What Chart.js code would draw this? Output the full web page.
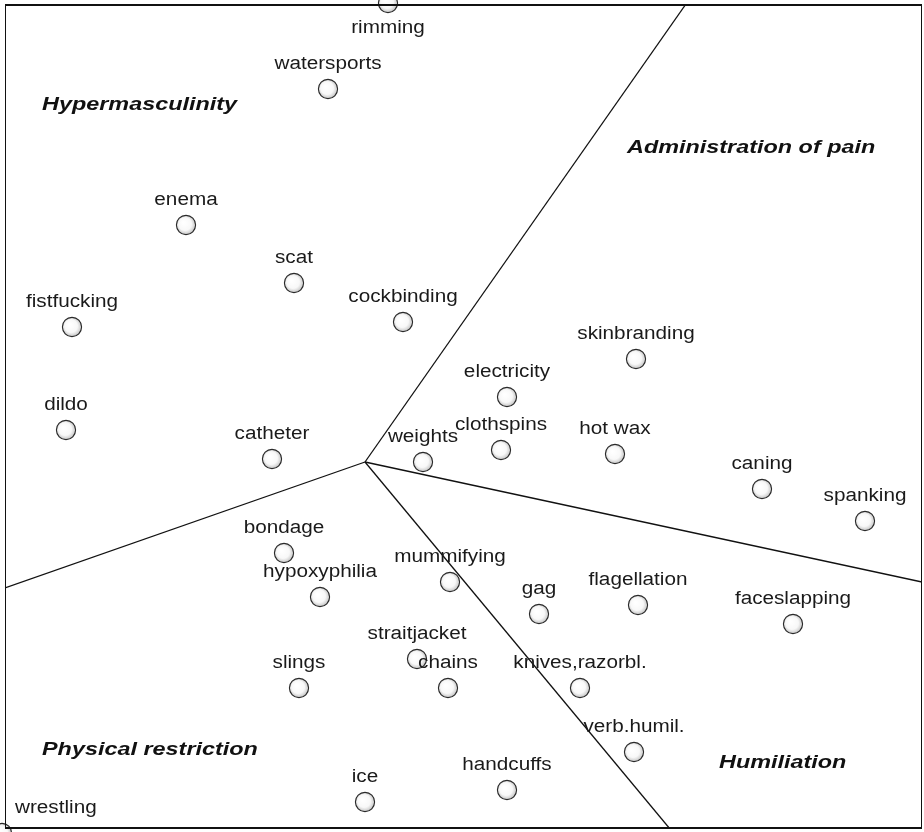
<!DOCTYPE html>
<html>
<head>
<meta charset="utf-8">
<script src="https://cdn.jsdelivr.net/npm/chart.js@4.4.1/dist/chart.umd.min.js"></script>
<style>
  html, body { margin: 0; padding: 0; background: #ffffff; }
  #wrap { width: 924px; height: 832px; }
</style>
</head>
<body>
<div id="wrap"><canvas id="c" width="924" height="832"></canvas></div>
<script>
// ---- data (map units: x to the right, y upward) ----
const categories = ['rimming','watersports','enema','scat','fistfucking','cockbinding',
  'skinbranding','electricity','dildo','catheter','weights','clothspins','hot wax',
  'caning','spanking','bondage','hypoxyphilia','mummifying','gag','flagellation',
  'faceslapping','straitjacket','chains','slings','knives,razorbl.','verb.humil.',
  'ice','handcuffs','wrestling'];
const xValues = [383,323,181,289,67,398,631,502,61,267,418,496,610,757,860,279,315,445,
  534,633,788,412,443,294,575,629,360,502,-3];
const yValues = [826,740,604,546,502,507,470,432,399,370,367,379,375,340,308,276,232,247,
  215,224,205,170,141,141,141,77,27,39,-4];

// region boundaries: a common centre and the end point of each of four rays
const boundaryCenter = [360, 367];
const boundaryEndX = [681, 917, 665, 0];
const boundaryEndY = [825, 247, 0, 241];

// region names and where their text starts (left x, baseline y)
const regionNames = ['Hypermasculinity','Administration of pain','Physical restriction','Humiliation'];
const regionX = [37, 622, 37, 714];
const regionY = [719, 676, 74, 61];

const X_MIN = 0, X_MAX = 917, Y_MIN = 0, Y_MAX = 825;

// ---- shaded sphere marker ----
function makeSphere() {
  const s = 24, c = document.createElement('canvas');
  c.width = s; c.height = s;
  const g = c.getContext('2d');
  const grad = g.createRadialGradient(9.5, 9.5, 1, 12, 12, 10);
  grad.addColorStop(0, '#ffffff');
  grad.addColorStop(0.6, '#f8f8f8');
  grad.addColorStop(0.88, '#d0d0d0');
  grad.addColorStop(1, '#7d7d7d');
  g.beginPath();
  g.arc(12, 12, 9.6, 0, Math.PI * 2);
  g.fillStyle = grad;
  g.fill();
  g.lineWidth = 1.1;
  g.strokeStyle = '#2a2a2a';
  g.stroke();
  return c;
}
const sphere = makeSphere();

const points = categories.map((n, i) => ({ x: xValues[i], y: yValues[i], name: n }));
const boundaryDatasets = boundaryEndX.map((ex, i) => ({
  type: 'scatter',
  data: [{ x: boundaryCenter[0], y: boundaryCenter[1] }, { x: ex, y: boundaryEndY[i] }],
  showLine: true,
  borderColor: '#111111',
  borderWidth: 1.3,
  pointRadius: 0,
  pointHoverRadius: 0,
  fill: false,
  order: 2
}));

function drawStretched(ctx, text, x, y, align, sx) {
  ctx.save();
  ctx.translate(x, y);
  ctx.scale(sx, 1);
  ctx.textAlign = align;
  ctx.fillText(text, 0, 0);
  ctx.restore();
}

const labelPlugin = {
  id: 'labels',
  afterDatasetsDraw(chart) {
    const ctx = chart.ctx, area = chart.chartArea;
    const xs = chart.scales.x, ys = chart.scales.y;
    // frame
    ctx.save();
    ctx.strokeStyle = '#111';
    ctx.lineWidth = 1;
    ctx.strokeRect(area.left + 0.5, area.top + 0.5, area.right - area.left - 1, area.bottom - area.top - 1);
    ctx.lineWidth = 2;
    ctx.beginPath(); ctx.moveTo(area.left, area.top + 1); ctx.lineTo(area.right, area.top + 1); ctx.stroke();
    ctx.beginPath(); ctx.moveTo(area.left, area.bottom - 1); ctx.lineTo(area.right, area.bottom - 1); ctx.stroke();
    ctx.restore();

    // point labels
    const meta = chart.getDatasetMeta(0);
    const SX = 1.15;
    ctx.save();
    ctx.font = '18px "Liberation Sans", Arial, sans-serif';
    ctx.fillStyle = '#1a1a1a';
    ctx.textBaseline = 'alphabetic';
    meta.data.forEach((el, i) => {
      const t = categories[i];
      const w = ctx.measureText(t).width * SX;
      let cx = el.x;
      if (cx - w / 2 < area.left + 10) cx = area.left + 10 + w / 2;
      if (cx + w / 2 > area.right - 4) cx = area.right - 4 - w / 2;
      let by = el.y - 20;
      if (by - 14 < area.top) by = el.y + 30; // no room above: put it below the marker
      drawStretched(ctx, t, cx, by, 'center', SX);
    });
    ctx.restore();

    // region names
    ctx.save();
    ctx.font = 'italic bold 18px "Liberation Sans", Arial, sans-serif';
    ctx.fillStyle = '#111';
    ctx.textBaseline = 'alphabetic';
    regionNames.forEach((t, i) => {
      drawStretched(ctx, t, xs.getPixelForValue(regionX[i]), ys.getPixelForValue(regionY[i]), 'left', 1.3);
    });
    ctx.restore();
  }
};

new Chart(document.getElementById('c'), {
  type: 'scatter',
  data: {
    datasets: [{
      label: 'items',
      data: points,
      pointStyle: sphere,
      pointRadius: 10,
      pointHoverRadius: 10,
      clip: false,
      order: 0
    }].concat(boundaryDatasets)
  },
  options: {
    responsive: false,
    animation: false,
    devicePixelRatio: 1,
    layout: { autoPadding: false, padding: { left: 5, top: 4, right: 2, bottom: 3 } },
    scales: {
      x: { type: 'linear', min: X_MIN, max: X_MAX, display: false },
      y: { type: 'linear', min: Y_MIN, max: Y_MAX, display: false }
    },
    plugins: { legend: { display: false }, tooltip: { enabled: false }, title: { display: false } },
    events: []
  },
  plugins: [labelPlugin]
});
</script>
</body>
</html>
